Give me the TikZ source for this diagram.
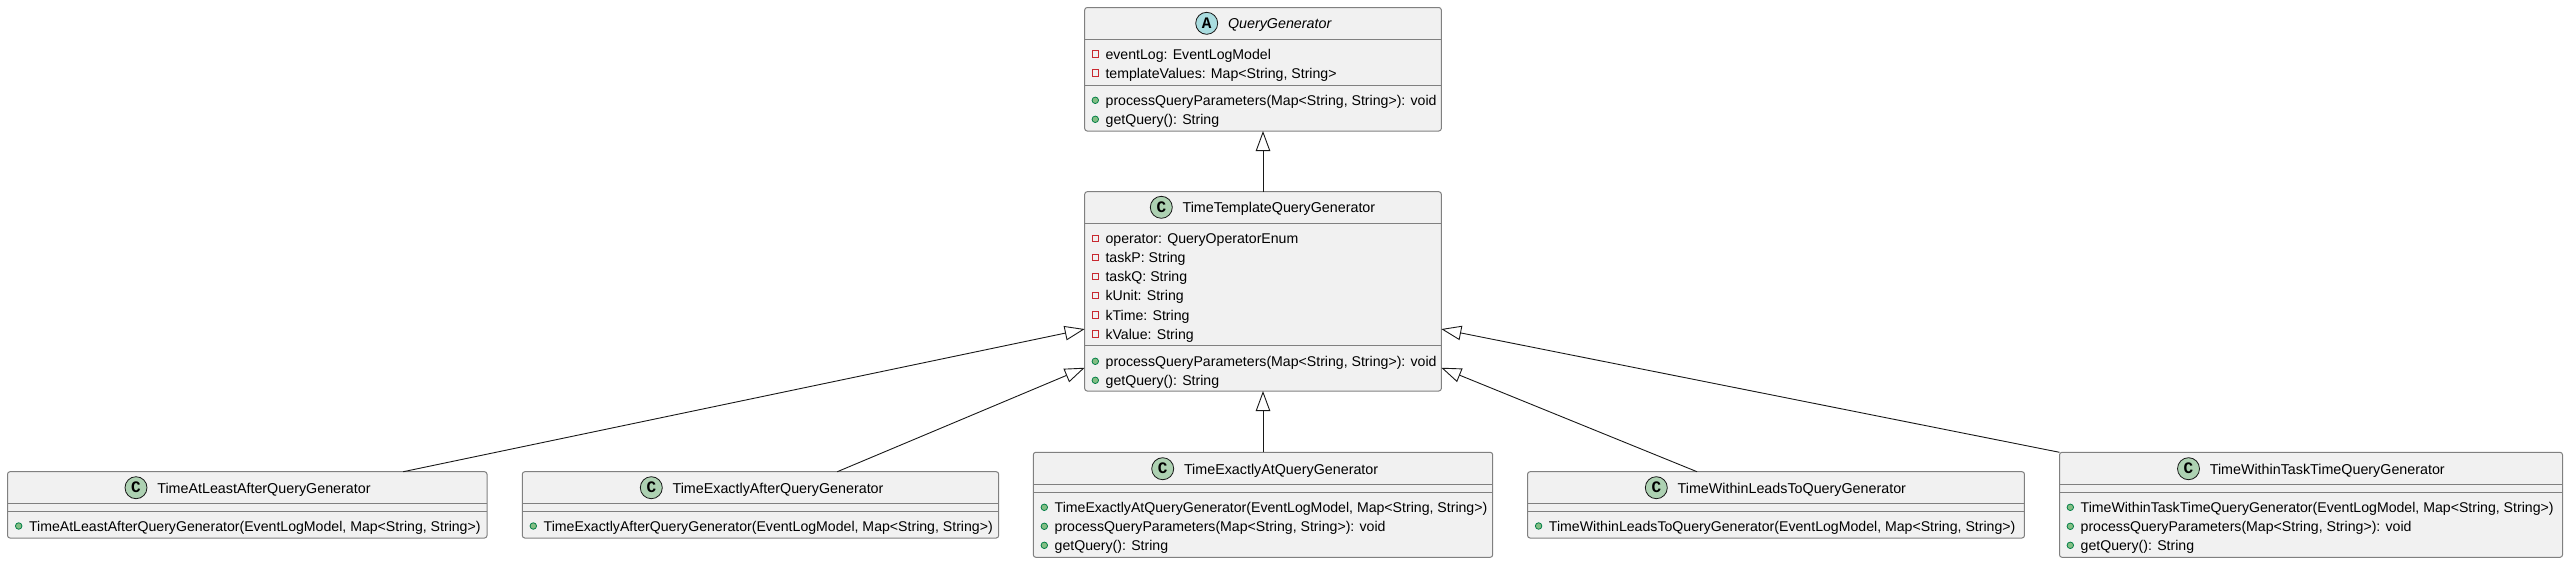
\documentclass[tikz,border=0pt]{standalone}
\usepackage{fontspec}
\setmainfont{Liberation Sans}
\newfontfamily\spotfont{Liberation Mono}
\usepackage{xcolor}
\usetikzlibrary{arrows.meta,positioning}
\definecolor{boxfill}{HTML}{F1F1F1}
\definecolor{boxline}{HTML}{808080}
\definecolor{wireline}{HTML}{181818}
\definecolor{spotA}{HTML}{A9DCDF}
\definecolor{spotC}{HTML}{ADD1B2}
\definecolor{pubfill}{HTML}{84BE84}
\definecolor{publine}{HTML}{038048}
\definecolor{privline}{HTML}{C82930}

\begin{document}
\begin{tikzpicture}[
    x=1pt, y=-1pt,
    node distance=9.7pt,
    classbox/.style={draw=boxline, line width=1pt, fill=boxfill, rounded corners=2.5pt, inner sep=0pt, outer sep=0pt},
    rule/.style={draw=boxline, line width=1pt},
    spot/.style={circle, draw=wireline, line width=.8pt, minimum size=22pt, inner sep=0pt, font=\spotfont\bfseries\fontsize{16}{16}\selectfont},
    title/.style={inner sep=0pt, text height=13pt, text depth=2pt, font=\fontsize{14.3}{14}\selectfont},
    member/.style={inner sep=0pt, text height=12pt, text depth=2pt, right=6.5pt of #1, font=\fontsize{14.12}{14}\selectfont},
    pubdot/.style={circle, draw=publine, fill=pubfill, line width=.8pt, minimum size=6.5pt, inner sep=0pt},
    privdot/.style={rectangle, draw=privline, line width=.9pt, minimum size=6.2pt, inner sep=0pt},
    extends/.style={-{Triangle[open, length=20pt, width=14.5pt]}, draw=wireline, line width=.9pt}
]
\useasboundingbox (0,0) rectangle (2568,563);

% abstract parent
\node[classbox, minimum width=356.6pt, minimum height=123.5pt] (qg) at (1263,69.25) {};
\draw[rule] (qg.west |- 0,39.5) -- (qg.east |- 0,39.5);
\draw[rule] (qg.west |- 0,85.3) -- (qg.east |- 0,85.3);
\node[spot, fill=spotA] (qgspot) at (1206.7,23.3) {A};
\node[title, right=of qgspot, font=\itshape\fontsize{14.3}{14}\selectfont] (qgname) {QueryGenerator};
\node[privdot] (qgd1) at (1095.3,54) {};
\node[member=qgd1] (qgm1) {eventLog: EventLogModel};
\node[privdot] (qgd2) at (1095.3,73) {};
\node[member=qgd2] (qgm2) {templateValues: Map<String, String>};
\node[pubdot] (qgd3) at (1095.3,100.3) {};
\node[member=qgd3] (qgm3) {processQueryParameters(Map<String, String>): void};
\node[pubdot] (qgd4) at (1095.3,119.3) {};
\node[member=qgd4] (qgm4) {getQuery(): String};

% template class
\node[classbox, minimum width=356.6pt, minimum height=199.3pt] (tt) at (1263,291.35) {};
\draw[rule] (tt.west |- 0,223.3) -- (tt.east |- 0,223.3);
\draw[rule] (tt.west |- 0,345) -- (tt.east |- 0,345);
\node[spot, fill=spotC] (ttspot) at (1161.3,207.3) {C};
\node[title, right=of ttspot] (ttname) {TimeTemplateQueryGenerator};
\node[privdot] (ttd1) at (1095.3,238.3) {};
\node[member=ttd1] (ttm1) {operator: QueryOperatorEnum};
\node[privdot] (ttd2) at (1095.3,257.3) {};
\node[member=ttd2] (ttm2) {taskP: String};
\node[privdot] (ttd3) at (1095.3,276.3) {};
\node[member=ttd3] (ttm3) {taskQ: String};
\node[privdot] (ttd4) at (1095.3,295.3) {};
\node[member=ttd4] (ttm4) {kUnit: String};
\node[privdot] (ttd5) at (1095.3,315) {};
\node[member=ttd5] (ttm5) {kTime: String};
\node[privdot] (ttd6) at (1095.3,334) {};
\node[member=ttd6] (ttm6) {kValue: String};
\node[pubdot] (ttd7) at (1095.3,361.3) {};
\node[member=ttd7] (ttm7) {processQueryParameters(Map<String, String>): void};
\node[pubdot] (ttd8) at (1095.3,380.3) {};
\node[member=ttd8] (ttm8) {getQuery(): String};

% bottom row
\node[classbox, minimum width=479.5pt, minimum height=66.3pt] (al) at (247.25,504.85) {};
\draw[rule] (al.west |- 0,503.3) -- (al.east |- 0,503.3);
\draw[rule] (al.west |- 0,511.3) -- (al.east |- 0,511.3);
\node[spot, fill=spotC] (alspot) at (136,487.7) {C};
\node[title, right=of alspot] (alname) {TimeAtLeastAfterQueryGenerator};
\node[pubdot] (ald1) at (18.7,526) {};
\node[member=ald1] (alm1) {TimeAtLeastAfterQueryGenerator(EventLogModel, Map<String, String>)};

\node[classbox, minimum width=476.4pt, minimum height=66.3pt] (ea) at (760.5,504.85) {};
\draw[rule] (ea.west |- 0,503.3) -- (ea.east |- 0,503.3);
\draw[rule] (ea.west |- 0,511.3) -- (ea.east |- 0,511.3);
\node[spot, fill=spotC] (easpot) at (651.3,487.7) {C};
\node[title, right=of easpot] (eaname) {TimeExactlyAfterQueryGenerator};
\node[pubdot] (ead1) at (533.3,526) {};
\node[member=ead1] (eam1) {TimeExactlyAfterQueryGenerator(EventLogModel, Map<String, String>)};

\node[classbox, minimum width=459.4pt, minimum height=105pt] (ex) at (1263,504.8) {};
\draw[rule] (ex.west |- 0,484.3) -- (ex.east |- 0,484.3);
\draw[rule] (ex.west |- 0,492.3) -- (ex.east |- 0,492.3);
\node[spot, fill=spotC] (exspot) at (1162.7,468.7) {C};
\node[title, right=of exspot] (exname) {TimeExactlyAtQueryGenerator};
\node[pubdot] (exd1) at (1044.3,507.3) {};
\node[member=exd1] (exm1) {TimeExactlyAtQueryGenerator(EventLogModel, Map<String, String>)};
\node[pubdot] (exd2) at (1044.3,526.3) {};
\node[member=exd2] (exm2) {processQueryParameters(Map<String, String>): void};
\node[pubdot] (exd3) at (1044.3,545.3) {};
\node[member=exd3] (exm3) {getQuery(): String};

\node[classbox, minimum width=496.9pt, minimum height=66.3pt] (wl) at (1776,504.85) {};
\draw[rule] (wl.west |- 0,503.3) -- (wl.east |- 0,503.3);
\draw[rule] (wl.west |- 0,511.3) -- (wl.east |- 0,511.3);
\node[spot, fill=spotC] (wlspot) at (1656.3,487.7) {C};
\node[title, right=of wlspot] (wlname) {TimeWithinLeadsToQueryGenerator};
\node[pubdot] (wld1) at (1538.6,526) {};
\node[member=wld1] (wlm1) {TimeWithinLeadsToQueryGenerator(EventLogModel, Map<String, String>)};

\node[classbox, minimum width=503pt, minimum height=105pt] (wt) at (2311,504.8) {};
\draw[rule] (wt.west |- 0,484.3) -- (wt.east |- 0,484.3);
\draw[rule] (wt.west |- 0,492.3) -- (wt.east |- 0,492.3);
\node[spot, fill=spotC] (wtspot) at (2188.5,468.7) {C};
\node[title, right=of wtspot] (wtname) {TimeWithinTaskTimeQueryGenerator};
\node[pubdot] (wtd1) at (2070.3,507.3) {};
\node[member=wtd1] (wtm1) {TimeWithinTaskTimeQueryGenerator(EventLogModel, Map<String, String>)};
\node[pubdot] (wtd2) at (2070.3,526.3) {};
\node[member=wtd2] (wtm2) {processQueryParameters(Map<String, String>): void};
\node[pubdot] (wtd3) at (2070.3,545.3) {};
\node[member=wtd3] (wtm3) {getQuery(): String};

% inheritance
\draw[extends] (tt.north) -- (qg.south);
\draw[extends] ([xshift=156pt]al.north) -- ([yshift=-37.7pt]tt.west);
\draw[extends] ([xshift=76.8pt]ea.north) -- ([yshift=-76.4pt]tt.west);
\draw[extends] (ex.north) -- (tt.south);
\draw[extends] ([xshift=-79pt]wl.north) -- ([yshift=-76.4pt]tt.east);
\draw[extends] (wt.north west) -- ([yshift=-37.7pt]tt.east);
\end{tikzpicture}
\end{document}
